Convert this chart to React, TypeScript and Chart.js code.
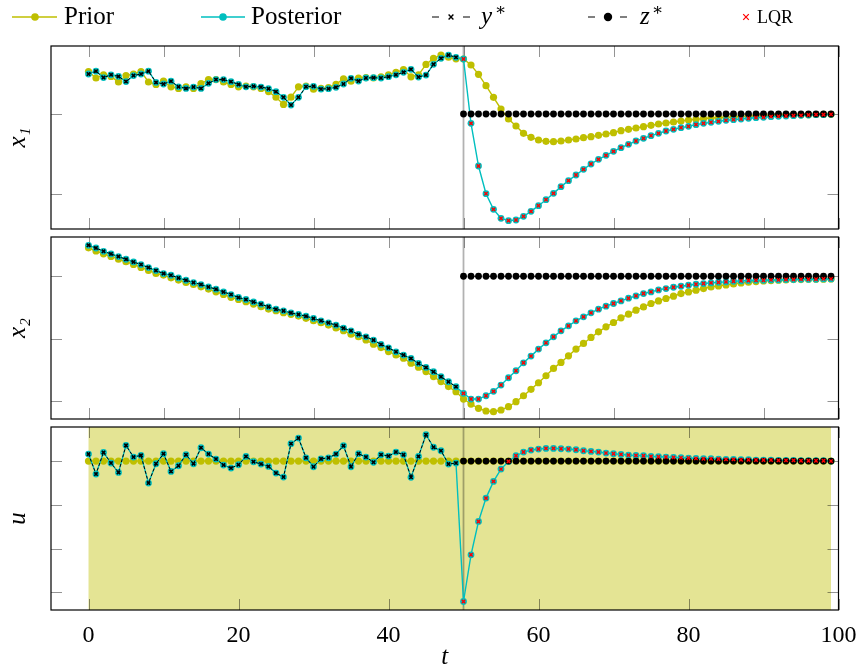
import React, { useEffect, useRef } from 'react';
import { Chart, registerables } from 'chart.js';

Chart.register(...registerables);

const W = 857;
const H = 670;
const SERIF = "'Liberation Serif', 'DejaVu Serif', serif";
const YELLOW = '#bfbf00';
const CYAN = '#00bfbf';
const RED = '#ff0000';
const SHADE = 'rgba(191,191,0,0.42)';

// ---------- data ----------
const timeSteps = Array.from({ length: 100 }, (_, i) => i);
const switchTime = 50;
const shadeRange = [0, 99];

// tick values
const xTicksFine = [0, 10, 20, 30, 40, 50, 60, 70, 80, 90, 100];
const xTickLabels = [0, 20, 40, 60, 80, 100];
const x1Ticks = [-1, 0];
const x2Ticks = [-2, -1, 0];
const uTicks = [-3, -2, -1, 0];

// x1
const x1Observed = [
  0.50, 0.535, 0.455, 0.49, 0.47, 0.405, 0.48, 0.50, 0.535, 0.395,
  0.375, 0.41, 0.34, 0.32, 0.337, 0.32, 0.383, 0.43, 0.43, 0.404,
  0.37, 0.34, 0.346, 0.337, 0.317, 0.279, 0.208, 0.112, 0.208, 0.342,
  0.346, 0.312, 0.317, 0.333, 0.375, 0.446, 0.412, 0.45, 0.454, 0.45,
  0.467, 0.49, 0.521, 0.558, 0.462, 0.487, 0.621, 0.696, 0.737, 0.708,
];
const x1Lqr = [
  0.6875, -0.117, -0.65, -0.996, -1.192, -1.304, -1.333, -1.325, -1.279, -1.217,
  -1.146, -1.071, -0.992, -0.908, -0.833, -0.7625, -0.692, -0.625, -0.567, -0.517,
  -0.467, -0.421, -0.379, -0.3375, -0.304, -0.271, -0.242, -0.2125, -0.192, -0.171,
  -0.154, -0.133, -0.117, -0.104, -0.092, -0.079, -0.071, -0.0625, -0.054, -0.046,
  -0.042, -0.033, -0.029, -0.025, -0.021, -0.017, -0.0125, -0.008, -0.008, -0.004,
];
const x1Prior = [
  0.53, 0.45, 0.49, 0.47, 0.40, 0.48, 0.50, 0.53, 0.40, 0.37,
  0.41, 0.34, 0.32, 0.34, 0.32, 0.38, 0.43, 0.43, 0.40, 0.37,
  0.34, 0.35, 0.34, 0.32, 0.28, 0.21, 0.12, 0.21, 0.34, 0.35,
  0.31, 0.32, 0.33, 0.37, 0.44, 0.41, 0.45, 0.455, 0.45, 0.465,
  0.49, 0.52, 0.555, 0.465, 0.49, 0.62, 0.695, 0.735, 0.71, 0.69,
  0.6875, 0.6125, 0.496, 0.354, 0.208, 0.0625, -0.0625, -0.15, -0.242, -0.292,
  -0.325, -0.342, -0.346, -0.3375, -0.325, -0.3125, -0.296, -0.283, -0.267, -0.25,
  -0.233, -0.208, -0.192, -0.175, -0.158, -0.142, -0.125, -0.1125, -0.1, -0.0875,
  -0.075, -0.067, -0.058, -0.05, -0.046, -0.042, -0.0375, -0.033, -0.029, -0.025,
  -0.021, -0.018, -0.016, -0.014, -0.012, -0.01, -0.008, -0.006, -0.005, -0.004,
];
const x1Target = [
  0, 0, 0, 0, 0, 0, 0, 0, 0, 0, 0, 0, 0, 0, 0, 0, 0, 0, 0, 0, 0, 0, 0, 0, 0,
  0, 0, 0, 0, 0, 0, 0, 0, 0, 0, 0, 0, 0, 0, 0, 0, 0, 0, 0, 0, 0, 0, 0, 0, 0,
];

// x2
const x2Observed = [
  0.496, 0.453, 0.40, 0.357, 0.315, 0.272, 0.229, 0.187, 0.139, 0.091,
  0.043, 0.016, -0.027, -0.064, -0.101, -0.133, -0.171, -0.208, -0.251, -0.293,
  -0.341, -0.373, -0.411, -0.448, -0.491, -0.528, -0.555, -0.587, -0.613, -0.64,
  -0.677, -0.715, -0.747, -0.784, -0.832, -0.875, -0.933, -0.971, -1.024, -1.093,
  -1.147, -1.211, -1.264, -1.317, -1.397, -1.461, -1.531, -1.611, -1.691, -1.771,
];
const x2Lqr = [
  -1.877, -1.968, -1.968, -1.915, -1.845, -1.744, -1.627, -1.515, -1.387, -1.28,
  -1.168, -1.067, -0.971, -0.875, -0.795, -0.715, -0.651, -0.587, -0.528, -0.48,
  -0.437, -0.395, -0.352, -0.315, -0.277, -0.251, -0.219, -0.197, -0.176, -0.16,
  -0.144, -0.128, -0.117, -0.107, -0.096, -0.091, -0.08, -0.075, -0.069, -0.064,
  -0.064, -0.059, -0.059, -0.053, -0.053, -0.048, -0.048, -0.048, -0.043, -0.043,
];
const x2Prior = [
  0.455, 0.405, 0.36, 0.318, 0.274, 0.232, 0.19, 0.142, 0.094, 0.046,
  0.018, -0.025, -0.062, -0.099, -0.131, -0.169, -0.206, -0.249, -0.291, -0.338,
  -0.371, -0.409, -0.446, -0.488, -0.526, -0.553, -0.585, -0.611, -0.638, -0.675,
  -0.712, -0.745, -0.782, -0.829, -0.872, -0.93, -0.968, -1.021, -1.09, -1.144,
  -1.208, -1.261, -1.314, -1.394, -1.458, -1.528, -1.608, -1.688, -1.768, -1.851,
  -1.968, -2.048, -2.117, -2.16, -2.171, -2.144, -2.091, -2.011, -1.915, -1.813,
  -1.707, -1.595, -1.477, -1.381, -1.275, -1.168, -1.077, -0.981, -0.891, -0.811,
  -0.741, -0.667, -0.608, -0.544, -0.491, -0.437, -0.395, -0.357, -0.32, -0.277,
  -0.251, -0.224, -0.197, -0.171, -0.155, -0.139, -0.123, -0.107, -0.096, -0.085,
  -0.075, -0.069, -0.064, -0.059, -0.053, -0.053, -0.048, -0.048, -0.048, -0.043,
];
const x2Target = [
  0, 0, 0, 0, 0, 0, 0, 0, 0, 0, 0, 0, 0, 0, 0, 0, 0, 0, 0, 0, 0, 0, 0, 0, 0,
  0, 0, 0, 0, 0, 0, 0, 0, 0, 0, 0, 0, 0, 0, 0, 0, 0, 0, 0, 0, 0, 0, 0, 0, 0,
];

// u
const uObserved = [
  0.16, -0.297, 0.198, -0.046, -0.259, 0.359, 0.092, 0.13, -0.503, -0.061,
  0.168, -0.236, -0.107, 0.145, -0.061, 0.305, 0.16, 0.046, -0.092, -0.16,
  -0.084, 0.107, -0.015, -0.069, -0.122, -0.275, -0.366, 0.397, 0.526, 0.075,
  -0.13, 0.05, 0.075, 0.16, 0.351, -0.13, 0.168, 0.092, -0.028, 0.145,
  0.114, 0.206, 0.145, -0.37, 0.107, 0.603, 0.316, 0.236, -0.069, -0.046,
];
const uLqr = [
  -3.211, -2.143, -1.381, -0.847, -0.465, -0.183, -0.008, 0.122, 0.206, 0.252,
  0.275, 0.29, 0.29, 0.282, 0.275, 0.259, 0.236, 0.221, 0.206, 0.183,
  0.168, 0.153, 0.137, 0.13, 0.122, 0.107, 0.099, 0.092, 0.084, 0.076,
  0.069, 0.061, 0.053, 0.053, 0.046, 0.038, 0.038, 0.031, 0.031, 0.023,
  0.023, 0.023, 0.015, 0.015, 0.015, 0.008, 0.008, 0.008, 0.008, 0.0,
];
const uPrior = [
  0, 0, 0, 0, 0, 0, 0, 0, 0, 0, 0, 0, 0, 0, 0, 0, 0, 0, 0, 0, 0, 0, 0, 0, 0,
  0, 0, 0, 0, 0, 0, 0, 0, 0, 0, 0, 0, 0, 0, 0, 0, 0, 0, 0, 0, 0, 0, 0, 0, 0,
  0, 0, 0, 0, 0, 0, 0, 0, 0, 0, 0, 0, 0, 0, 0, 0, 0, 0, 0, 0, 0, 0, 0, 0, 0,
  0, 0, 0, 0, 0, 0, 0, 0, 0, 0, 0, 0, 0, 0, 0, 0, 0, 0, 0, 0, 0, 0, 0, 0, 0,
];
const uTarget = [
  0, 0, 0, 0, 0, 0, 0, 0, 0, 0, 0, 0, 0, 0, 0, 0, 0, 0, 0, 0, 0, 0, 0, 0, 0,
  0, 0, 0, 0, 0, 0, 0, 0, 0, 0, 0, 0, 0, 0, 0, 0, 0, 0, 0, 0, 0, 0, 0, 0, 0,
];

// ---------- panel layout ----------
type PanelSpec = {
  title: string;
  prior: number[];
  observed: number[];
  lqr: number[];
  target: number[];
  yMin: number;
  yMax: number;
  yTicks: number[];
  xTicks: number[];
  top: number;
  bottom: number;
  xLabels: boolean;
  legend: boolean;
  shade: boolean;
};

const PANELS: PanelSpec[] = [
  { title: 'x₁', prior: x1Prior, observed: x1Observed, lqr: x1Lqr, target: x1Target,
    yMin: -1.4375, yMax: 0.85, yTicks: x1Ticks, xTicks: xTicksFine,
    top: 46, bottom: 229, xLabels: false, legend: true, shade: false },
  { title: 'x₂', prior: x2Prior, observed: x2Observed, lqr: x2Lqr, target: x2Target,
    yMin: -2.288, yMax: 0.629, yTicks: x2Ticks, xTicks: xTicksFine,
    top: 237, bottom: 419, xLabels: false, legend: false, shade: false },
  { title: 'u', prior: uPrior, observed: uObserved, lqr: uLqr, target: uTarget,
    yMin: -3.405, yMax: 0.779, yTicks: uTicks, xTicks: xTickLabels,
    top: 427, bottom: 610, xLabels: true, legend: false, shade: true },
];

const pts = (vals: number[], start: number) =>
  vals.map((y, i) => ({ x: timeSteps[start + i], y }));

// ---------- plugins ----------
const framePlugin = {
  id: 'frame',
  beforeDatasetsDraw(chart: any, _args: any, opts: any) {
    const { ctx, chartArea: a } = chart;
    const xs = chart.scales.x;
    const ys = chart.scales.y;
    ctx.save();
    if (opts.shade) {
      const x0 = xs.getPixelForValue(shadeRange[0]);
      const x1 = xs.getPixelForValue(shadeRange[1]);
      ctx.fillStyle = SHADE;
      ctx.fillRect(x0, a.top, x1 - x0, a.bottom - a.top);
    }
    const L = 11;
    ctx.strokeStyle = 'rgba(0,0,0,0.42)';
    ctx.lineWidth = 1;
    ctx.beginPath();
    for (const t of xs.ticks) {
      const px = Math.round(xs.getPixelForValue(t.value)) + 0.5;
      ctx.moveTo(px, a.bottom);
      ctx.lineTo(px, a.bottom - L);
      ctx.moveTo(px, a.top);
      ctx.lineTo(px, a.top + L);
    }
    for (const t of ys.ticks) {
      const py = Math.round(ys.getPixelForValue(t.value)) + 0.5;
      ctx.moveTo(a.left, py);
      ctx.lineTo(a.left + L, py);
      ctx.moveTo(a.right, py);
      ctx.lineTo(a.right - L, py);
    }
    ctx.stroke();
    const xm = xs.getPixelForValue(switchTime);
    ctx.strokeStyle = 'rgba(0,0,0,0.3)';
    ctx.lineWidth = 1.8;
    ctx.beginPath();
    ctx.moveTo(xm, a.top);
    ctx.lineTo(xm, a.bottom);
    ctx.stroke();
    ctx.restore();
  },
  afterDatasetsDraw(chart: any) {
    const { ctx, chartArea: a } = chart;
    ctx.save();
    ctx.strokeStyle = '#000';
    ctx.lineWidth = 1.2;
    ctx.strokeRect(a.left, a.top, a.right - a.left, a.bottom - a.top);
    ctx.restore();
  },
};

const legendPlugin = {
  id: 'figLegend',
  afterDraw(chart: any) {
    const ctx = chart.ctx as CanvasRenderingContext2D;
    ctx.save();
    const cy = 17;
    const seg = (x0: number, x1: number, color: string, w: number) => {
      ctx.strokeStyle = color;
      ctx.lineWidth = w;
      ctx.setLineDash([]);
      ctx.beginPath();
      ctx.moveTo(x0, cy);
      ctx.lineTo(x1, cy);
      ctx.stroke();
    };
    const dot = (x: number, r: number, color: string) => {
      ctx.fillStyle = color;
      ctx.beginPath();
      ctx.arc(x, cy, r, 0, Math.PI * 2);
      ctx.fill();
    };
    const cross = (x: number, r: number, color: string, w: number) => {
      ctx.strokeStyle = color;
      ctx.lineWidth = w;
      ctx.beginPath();
      ctx.moveTo(x - r, cy - r);
      ctx.lineTo(x + r, cy + r);
      ctx.moveTo(x - r, cy + r);
      ctx.lineTo(x + r, cy - r);
      ctx.stroke();
    };
    const txt = (s: string, x: number, y: number, font: string) => {
      ctx.font = font;
      ctx.fillStyle = '#000';
      ctx.textBaseline = 'alphabetic';
      ctx.textAlign = 'left';
      ctx.fillText(s, x, y);
    };
    const main = `25px ${SERIF}`;
    const ital = `italic 25px ${SERIF}`;
    const sup = `17px ${SERIF}`;
    seg(12, 57, YELLOW, 1.6);
    dot(35, 3.8, YELLOW);
    txt('Prior', 64, 24, main);
    seg(201, 245, CYAN, 1.6);
    dot(223, 3.8, CYAN);
    txt('Posterior', 251, 24, main);
    seg(432, 439, '#000', 1);
    seg(463, 470, '#000', 1);
    cross(451, 2.4, '#000', 1.4);
    txt('y', 481, 24, ital);
    txt('∗', 495, 15, sup);
    seg(588, 595, '#000', 1);
    seg(620, 627, '#000', 1);
    dot(608, 4.2, '#000');
    txt('z', 640, 24, ital);
    txt('∗', 652, 15, sup);
    cross(746, 2.8, RED, 1.2);
    txt('LQR', 757, 23, `18px ${SERIF}`);
    ctx.restore();
  },
};

function buildConfig(p: PanelSpec): any {
  const lqrStart = p.observed.length;
  const posterior = [...p.observed, ...p.lqr];
  return {
    type: 'line',
    data: {
      datasets: [
        {
          label: 'Prior', data: pts(p.prior, 0), borderColor: YELLOW, backgroundColor: YELLOW,
          borderWidth: 1.4, pointRadius: 3.6, pointBorderWidth: 0, pointBackgroundColor: YELLOW,
          tension: 0, order: 5,
        },
        {
          label: 'Posterior', data: pts(posterior, 0), borderColor: CYAN, backgroundColor: CYAN,
          borderWidth: 1.4, pointRadius: 3.4, pointBorderWidth: 0, pointBackgroundColor: CYAN,
          tension: 0, order: 4,
        },
        {
          label: 'y*', data: pts(p.observed, 0), borderColor: '#000', backgroundColor: '#000',
          borderWidth: 1, borderDash: [3, 2], pointStyle: 'crossRot', pointRadius: 2.4,
          pointBorderWidth: 1.6, pointBorderColor: '#000', tension: 0, order: 3,
        },
        {
          label: 'z*', data: pts(p.target, lqrStart), borderColor: '#000', backgroundColor: '#000',
          borderWidth: 1, borderDash: [3, 2], pointRadius: 3.4, pointBorderWidth: 0,
          pointBackgroundColor: '#000', tension: 0, order: 2,
        },
        {
          label: 'LQR', data: pts(p.lqr, lqrStart), showLine: false, borderColor: RED,
          backgroundColor: RED, pointStyle: 'crossRot', pointRadius: 2.4, pointBorderWidth: 1.4,
          pointBorderColor: RED, order: 1,
        },
      ],
    },
    options: {
      responsive: false,
      animation: false,
      devicePixelRatio: 1,
      events: [],
      layout: { padding: { top: p.top, bottom: p.xLabels ? 0 : H - p.bottom, left: 0, right: 18.5 } },
      plugins: {
        legend: { display: false },
        tooltip: { enabled: false },
        frame: { shade: p.shade },
      },
      scales: {
        x: {
          type: 'linear',
          bounds: 'data',
          min: -5,
          max: 100,
          grid: { display: false },
          border: { display: false },
          afterBuildTicks: (s: any) => {
            s.ticks = p.xTicks.map((v) => ({ value: v }));
          },
          ticks: {
            display: p.xLabels,
            autoSkip: false,
            maxRotation: 0,
            padding: 3,
            color: '#000',
            font: { family: SERIF, size: 24 },
            callback: (v: number) => String(v),
          },
          title: {
            display: p.xLabels,
            text: 't',
            color: '#000',
            font: { family: SERIF, size: 25, style: 'italic', lineHeight: 1 },
            padding: { top: 0, bottom: 0 },
          },
          afterFit: (s: any) => {
            s.height = p.xLabels ? H - p.bottom : 0;
            s.paddingLeft = 0;
            s.paddingRight = 0;
          },
        },
        y: {
          type: 'linear',
          bounds: 'data',
          min: p.yMin,
          max: p.yMax,
          grid: { display: false },
          border: { display: false },
          afterBuildTicks: (s: any) => {
            s.ticks = p.yTicks.map((v) => ({ value: v }));
          },
          ticks: { display: false },
          title: {
            display: true,
            text: p.title,
            color: '#000',
            font: { family: SERIF, size: 25, style: 'italic', lineHeight: 1 },
            padding: { top: 6, bottom: 0 },
          },
          afterFit: (s: any) => {
            s.width = 51;
            s.paddingTop = 0;
            s.paddingBottom = 0;
          },
        },
      },
    },
    plugins: p.legend ? [framePlugin, legendPlugin] : [framePlugin],
  };
}

function Panel({ spec }: { spec: PanelSpec }) {
  const ref = useRef<HTMLCanvasElement>(null);
  useEffect(() => {
    if (!ref.current) return;
    const chart = new Chart(ref.current, buildConfig(spec));
    return () => chart.destroy();
  }, [spec]);
  return (
    <canvas
      ref={ref}
      width={W}
      height={H}
      style={{ position: 'absolute', left: 0, top: 0, width: W, height: H }}
    />
  );
}

export default function App() {
  return (
    <div style={{ position: 'absolute', left: 0, top: 0, width: W, height: H, background: '#fff' }}>
      {PANELS.map((p, i) => (
        <Panel key={i} spec={p} />
      ))}
    </div>
  );
}
